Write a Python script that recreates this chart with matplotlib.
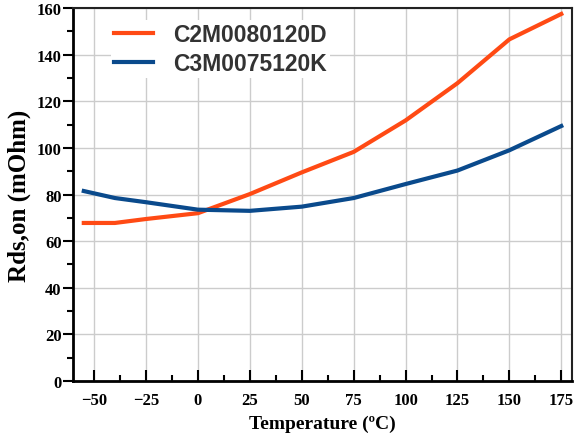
import matplotlib
matplotlib.use("Agg")
import matplotlib.pyplot as plt
from matplotlib.ticker import MultipleLocator

# temperature points (degC) and Rds,on values (mOhm)
temperatura = [-55, -40, -25, 0, 25, 50, 75, 100, 125, 150, 175]
rds_c2m = [67.8, 67.8, 69.5, 72.0, 80.2, 89.5, 98.3, 111.8, 127.8, 146.6, 157.5]
rds_c3m = [81.5, 78.5, 76.7, 73.5, 73.0, 74.8, 78.5, 84.5, 90.3, 99.0, 109.4]

nomes = ["C2M0080120D", "C3M0075120K"]
cores = ["#ff4a14", "#0a4a8c"]

xticks = [-50, -25, 0, 25, 50, 75, 100, 125, 150, 175]
yticks = [0, 20, 40, 60, 80, 100, 120, 140, 160]

fig = plt.figure(figsize=(5.78, 4.35), dpi=100)
ax = fig.add_axes([0.127, 0.122, 0.862, 0.857])

ax.plot(temperatura, rds_c2m, color=cores[0], lw=3, label=nomes[0], zorder=3)
ax.plot(temperatura, rds_c3m, color=cores[1], lw=3, label=nomes[1], zorder=3)

ax.set_xlim(-60, 180)
ax.set_ylim(0, 160)
ax.set_xticks(xticks)
ax.set_yticks(yticks)
ax.xaxis.set_minor_locator(MultipleLocator(12.5))
ax.yaxis.set_minor_locator(MultipleLocator(10))

ax.grid(True, which="major", color="#cccccc", lw=1, zorder=0)
ax.set_axisbelow(True)

serif_bold = dict(family="Liberation Serif", weight="bold")
ax.tick_params(axis="x", which="major", direction="in", length=8, width=1.5,
               top=False, pad=8)
ax.tick_params(axis="x", which="minor", direction="in", length=4, width=1.5, top=False)
ax.tick_params(axis="y", which="major", direction="out", length=7, width=1.5,
               right=False, pad=1.5)
ax.tick_params(axis="y", which="minor", direction="out", length=4, width=1.5, right=False)
for lbl in ax.get_xticklabels() + ax.get_yticklabels():
    lbl.set_fontfamily("Liberation Serif")
    lbl.set_fontweight("bold")
    lbl.set_fontsize(12)

ax.set_xlabel("Temperature (ºC)", fontsize=14, labelpad=4.5, **serif_bold)
ax.set_ylabel("Rds,on (mOhm)", fontsize=18, labelpad=4, **serif_bold)

for lado in ["left", "bottom"]:
    ax.spines[lado].set_linewidth(2)
    ax.spines[lado].set_color("black")
for lado in ["top", "right"]:
    ax.spines[lado].set_linewidth(1.5)
    ax.spines[lado].set_color("#222222")

leg = ax.legend(loc="upper left", bbox_to_anchor=(0.052, 1.0), frameon=True,
                framealpha=1, edgecolor="none", handlelength=1.7, handletextpad=0.85,
                labelspacing=0.25, borderpad=0.15,
                prop=dict(family="Liberation Sans", weight="bold", size=16.5))
for txt in leg.get_texts():
    txt.set_color("#333333")

fig.savefig("out.png", dpi=100)
